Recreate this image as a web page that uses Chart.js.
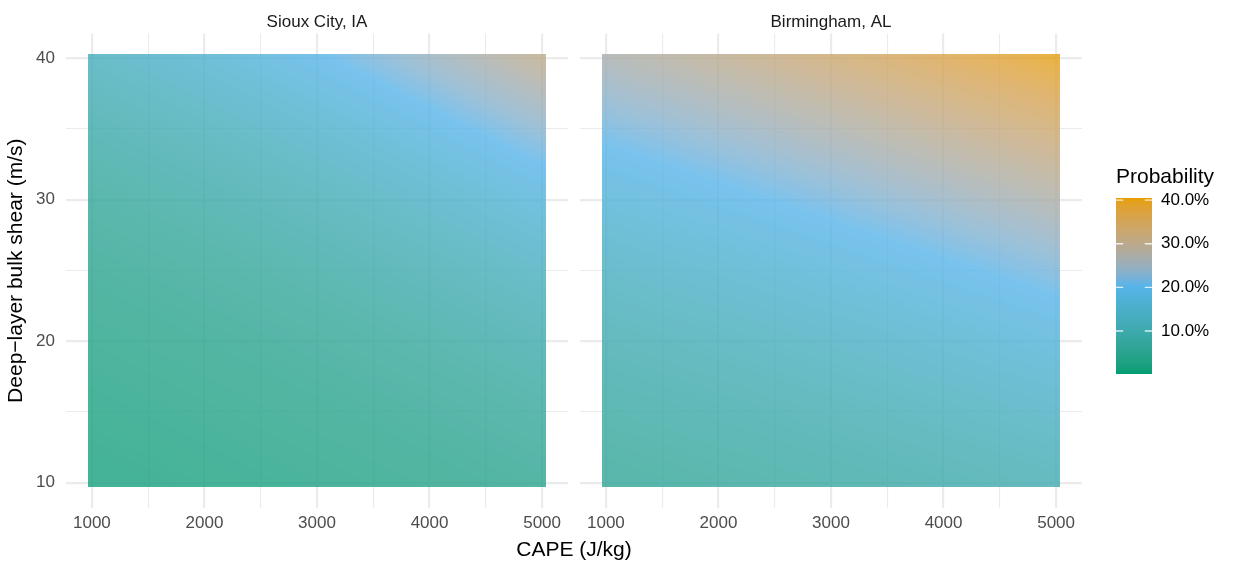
<!DOCTYPE html>
<html><head><meta charset="utf-8">
<script src="https://cdn.jsdelivr.net/npm/chart.js@4"></script>
<style>
html,body{margin:0;padding:0;background:#fff;}
#wrap{position:relative;width:1234px;height:566px;overflow:hidden;background:#fff;}
canvas{position:absolute;top:0;}
#xtitle{position:absolute;left:0;width:1148px;top:536px;text-align:center;font:21px "Liberation Sans",Arial,Helvetica,sans-serif;line-height:25px;color:#000;white-space:nowrap;}
</style></head><body>
<div id="wrap">
<canvas id="c1" width="575" height="566" style="left:0px"></canvas>
<canvas id="c2" width="515" height="566" style="left:575px"></canvas>
<canvas id="c3" width="144" height="566" style="left:1090px"></canvas>
<div id="xtitle">CAPE (J/kg)</div>
</div>
<script>
// ---------------- data ----------------
const panelTitles = ['Sioux City, IA', 'Birmingham, AL'];
const capeValues = [1000,1250,1500,1750,2000,2250,2500,2750,3000,3250,3500,3750,4000,4250,4500,4750,5000];
const shearValues = [10,12,14,16,18,20,22,24,26,28,30,32,34,36,38,40];
// probability (%) ; rows = shearValues, columns = capeValues
const siouxCityProb = [
 [1.8,1.9,2.0,2.2,2.3,2.5,2.7,2.9,3.1,3.3,3.5,3.7,4.0,4.3,4.5,4.8,5.2],
 [2.0,2.2,2.3,2.5,2.7,2.9,3.1,3.3,3.5,3.7,4.0,4.3,4.5,4.8,5.2,5.5,5.9],
 [2.3,2.5,2.7,2.9,3.1,3.3,3.5,3.7,4.0,4.3,4.5,4.8,5.2,5.5,5.9,6.3,6.7],
 [2.7,2.9,3.1,3.3,3.5,3.7,4.0,4.3,4.5,4.8,5.2,5.5,5.9,6.3,6.7,7.1,7.6],
 [3.1,3.3,3.5,3.7,4.0,4.3,4.5,4.8,5.2,5.5,5.9,6.3,6.7,7.1,7.6,8.1,8.6],
 [3.5,3.7,4.0,4.3,4.5,4.8,5.2,5.5,5.9,6.3,6.7,7.1,7.6,8.1,8.6,9.2,9.8],
 [4.0,4.3,4.5,4.8,5.2,5.5,5.9,6.3,6.7,7.1,7.6,8.1,8.6,9.2,9.8,10.4,11.1],
 [4.5,4.8,5.2,5.5,5.9,6.3,6.7,7.1,7.6,8.1,8.6,9.2,9.8,10.4,11.1,11.8,12.5],
 [5.2,5.5,5.9,6.3,6.7,7.1,7.6,8.1,8.6,9.2,9.8,10.4,11.1,11.8,12.5,13.3,14.1],
 [5.9,6.3,6.7,7.1,7.6,8.1,8.6,9.2,9.8,10.4,11.1,11.8,12.5,13.3,14.1,14.9,15.8],
 [6.7,7.1,7.6,8.1,8.6,9.2,9.8,10.4,11.1,11.8,12.5,13.3,14.1,14.9,15.8,16.8,17.7],
 [7.6,8.1,8.6,9.2,9.8,10.4,11.1,11.8,12.5,13.3,14.1,14.9,15.8,16.8,17.7,18.8,19.8],
 [8.6,9.2,9.8,10.4,11.1,11.8,12.5,13.3,14.1,14.9,15.8,16.8,17.7,18.8,19.8,21.0,22.1],
 [9.8,10.4,11.1,11.8,12.5,13.3,14.1,14.9,15.8,16.8,17.7,18.8,19.8,21.0,22.1,23.3,24.6],
 [11.1,11.8,12.5,13.3,14.1,14.9,15.8,16.8,17.7,18.8,19.8,21.0,22.1,23.3,24.6,25.9,27.2],
 [12.5,13.3,14.1,14.9,15.8,16.8,17.7,18.8,19.8,21.0,22.1,23.3,24.6,25.9,27.2,28.6,30.0]
];
const birminghamProb = [
 [6.1,6.4,6.6,6.8,7.1,7.3,7.6,7.9,8.1,8.4,8.7,9.0,9.3,9.7,10.0,10.4,10.7],
 [6.8,7.1,7.3,7.6,7.9,8.1,8.4,8.7,9.0,9.3,9.7,10.0,10.4,10.7,11.1,11.5,11.9],
 [7.6,7.9,8.1,8.4,8.7,9.0,9.3,9.7,10.0,10.4,10.7,11.1,11.5,11.9,12.3,12.7,13.1],
 [8.4,8.7,9.0,9.3,9.7,10.0,10.4,10.7,11.1,11.5,11.9,12.3,12.7,13.1,13.6,14.0,14.5],
 [9.3,9.7,10.0,10.4,10.7,11.1,11.5,11.9,12.3,12.7,13.1,13.6,14.0,14.5,15.0,15.4,15.9],
 [10.4,10.7,11.1,11.5,11.9,12.3,12.7,13.1,13.6,14.0,14.5,15.0,15.4,15.9,16.5,17.0,17.5],
 [11.5,11.9,12.3,12.7,13.1,13.6,14.0,14.5,15.0,15.4,15.9,16.5,17.0,17.5,18.1,18.7,19.3],
 [12.7,13.1,13.6,14.0,14.5,15.0,15.4,15.9,16.5,17.0,17.5,18.1,18.7,19.3,19.9,20.5,21.1],
 [14.0,14.5,15.0,15.4,15.9,16.5,17.0,17.5,18.1,18.7,19.3,19.9,20.5,21.1,21.7,22.4,23.1],
 [15.4,15.9,16.5,17.0,17.5,18.1,18.7,19.3,19.9,20.5,21.1,21.7,22.4,23.1,23.7,24.4,25.2],
 [17.0,17.5,18.1,18.7,19.3,19.9,20.5,21.1,21.7,22.4,23.1,23.7,24.4,25.2,25.9,26.6,27.4],
 [18.7,19.3,19.9,20.5,21.1,21.7,22.4,23.1,23.7,24.4,25.2,25.9,26.6,27.4,28.1,28.9,29.7],
 [20.5,21.1,21.7,22.4,23.1,23.7,24.4,25.2,25.9,26.6,27.4,28.1,28.9,29.7,30.5,31.3,32.1],
 [22.4,23.1,23.7,24.4,25.2,25.9,26.6,27.4,28.1,28.9,29.7,30.5,31.3,32.1,33.0,33.8,34.7],
 [24.4,25.2,25.9,26.6,27.4,28.1,28.9,29.7,30.5,31.3,32.1,33.0,33.8,34.7,35.5,36.4,37.3],
 [26.6,27.4,28.1,28.9,29.7,30.5,31.3,32.1,33.0,33.8,34.7,35.5,36.4,37.3,38.2,39.1,40.0]
];
const xTickLabels = [1000,2000,3000,4000,5000];
const yTickLabels = [10,20,30,40];
const legendTickLabels = [10,20,30,40];
const paletteColours = ['#009E73','#56B4E9','#E69F00'];
const colourLimits = [0.15, 40.45];

// ---------------- layout / style constants ----------------
const panelXRange = [770, 5230];
const panelYRange = [8.22, 41.74];
const rasterXExtent = [965, 5035];
const rasterYExtent = [9.73, 40.27];
const rasterAlpha = 0.8;
const FONT = '"Liberation Sans", Arial, Helvetica, sans-serif';
Chart.defaults.font.family = FONT;
Chart.defaults.color = '#4D4D4D';

// major breaks plus minor breaks half-way between them (as ggplot draws)
function withMinor(major){
  const out=[];
  for(let i=0;i<major.length;i++){
    out.push(major[i]);
    if(i<major.length-1) out.push((major[i]+major[i+1])/2);
  }
  return out;
}
const xBreaks = withMinor(xTickLabels);
const yBreaks = withMinor(yTickLabels);

// ---------------- colour scale (Lab interpolation) ----------------
function hexToRgb(h){h=h.replace('#','');return [parseInt(h.slice(0,2),16),parseInt(h.slice(2,4),16),parseInt(h.slice(4,6),16)];}
function s2l(c){c/=255;return c<=0.04045?c/12.92:Math.pow((c+0.055)/1.055,2.4);}
function l2s(c){const v=c<=0.0031308?12.92*c:1.055*Math.pow(Math.max(c,0),1/2.4)-0.055;return Math.max(0,Math.min(255,Math.round(v*255)));}
function rgbToLab(rgb){
  const R=s2l(rgb[0]),G=s2l(rgb[1]),B=s2l(rgb[2]);
  const X=(0.4124564*R+0.3575761*G+0.1804375*B)/0.95047;
  const Y=(0.2126729*R+0.7151522*G+0.0721750*B);
  const Z=(0.0193339*R+0.1191920*G+0.9503041*B)/1.08883;
  const f=t=>t>216/24389?Math.cbrt(t):(24389/27*t+16)/116;
  const fx=f(X),fy=f(Y),fz=f(Z);
  return [116*fy-16,500*(fx-fy),200*(fy-fz)];
}
function labToRgb(lab){
  const fy=(lab[0]+16)/116,fx=fy+lab[1]/500,fz=fy-lab[2]/200;
  const inv=t=>{const t3=t*t*t;return t3>216/24389?t3:(116*t-16)/(24389/27);};
  const X=inv(fx)*0.95047,Y=inv(fy),Z=inv(fz)*1.08883;
  const R=3.2404542*X-1.5371385*Y-0.4985314*Z;
  const G=-0.9692660*X+1.8760108*Y+0.0415560*Z;
  const B=0.0556434*X-0.2040259*Y+1.0572252*Z;
  return [l2s(R),l2s(G),l2s(B)];
}
const paletteLab = paletteColours.map(c=>rgbToLab(hexToRgb(c)));
const colourCache = new Map();
function colourRGB(v){
  const key=Math.round(v*50);
  if(colourCache.has(key)) return colourCache.get(key);
  let t=(key/50-colourLimits[0])/(colourLimits[1]-colourLimits[0]);
  t=Math.max(0,Math.min(1,t));
  const n=paletteLab.length-1;
  const seg=Math.min(n-1,Math.floor(t*n));
  const u=t*n-seg;
  const a=paletteLab[seg],b=paletteLab[seg+1];
  const rgb=labToRgb([a[0]+(b[0]-a[0])*u,a[1]+(b[1]-a[1])*u,a[2]+(b[2]-a[2])*u]);
  colourCache.set(key,rgb);
  return rgb;
}
function colourFor(v){const c=colourRGB(v);return 'rgb('+c[0]+','+c[1]+','+c[2]+')';}

// ---------------- raster plugin (smoothly shaded cells, like geom_raster(interpolate=TRUE)) ----------------
function fracIndex(vals, v){
  if(v<=vals[0]) return 0;
  const n=vals.length-1;
  if(v>=vals[n]) return n;
  let i=0; while(i<n-1 && v>vals[i+1]) i++;
  return i+(v-vals[i])/(vals[i+1]-vals[i]);
}
function rasterPlugin(grid){
  return {
    id:'raster',
    afterDatasetsDraw(chart){
      const {ctx, scales:{x, y}} = chart;
      const px0=Math.round(x.getPixelForValue(rasterXExtent[0])), px1=Math.round(x.getPixelForValue(rasterXExtent[1]));
      const py0=Math.round(y.getPixelForValue(rasterYExtent[1])), py1=Math.round(y.getPixelForValue(rasterYExtent[0]));
      const w=px1-px0, h=py1-py0;
      const off=document.createElement('canvas'); off.width=w; off.height=h;
      const octx=off.getContext('2d');
      const img=octx.createImageData(w,h);
      const fx=[], fy=[];
      for(let c=0;c<w;c++) fx.push(fracIndex(capeValues, x.getValueForPixel(px0+c+0.5)));
      for(let r=0;r<h;r++) fy.push(fracIndex(shearValues, y.getValueForPixel(py0+r+0.5)));
      const nx=capeValues.length-1, ny=shearValues.length-1;
      const A=Math.round(rasterAlpha*255);
      for(let r=0;r<h;r++){
        const j0=Math.min(ny-1,Math.floor(fy[r])), v=fy[r]-j0;
        for(let c=0;c<w;c++){
          const i0=Math.min(nx-1,Math.floor(fx[c])), u=fx[c]-i0;
          const val=(1-u)*(1-v)*grid[j0][i0]+u*(1-v)*grid[j0][i0+1]+(1-u)*v*grid[j0+1][i0]+u*v*grid[j0+1][i0+1];
          const rgb=colourRGB(val);
          const k=(r*w+c)*4;
          img.data[k]=rgb[0]; img.data[k+1]=rgb[1]; img.data[k+2]=rgb[2]; img.data[k+3]=A;
        }
      }
      octx.putImageData(img,0,0);
      ctx.save();
      ctx.drawImage(off,px0,py0);
      ctx.restore();
    }
  };
}

function gridWidth(list){ return c => (c.tick && list.includes(c.tick.value)) ? 2.2 : 1.1; }

function makePanel(id, title, grid, showY, yWidth, padRight){
  return new Chart(document.getElementById(id), {
    type:'scatter',
    data:{datasets:[]},
    options:{
      responsive:false, animation:false, devicePixelRatio:1,
      layout:{padding:{left:0,right:padRight,top:0,bottom:0}},
      plugins:{
        legend:{display:false}, tooltip:{enabled:false},
        title:{display:true, text:title, fullSize:false, color:'#1A1A1A',
               font:{size:17, weight:'normal', family:FONT}, padding:{top:12,bottom:1}}
      },
      scales:{
        x:{type:'linear', min:panelXRange[0], max:panelXRange[1],
           afterBuildTicks:s=>{s.ticks=xBreaks.map(v=>({value:v}));},
           afterFit:s=>{s.height=58;},
           border:{display:false},
           grid:{drawTicks:false, color:'#EBEBEB', lineWidth:gridWidth(xTickLabels)},
           ticks:{autoSkip:false, maxRotation:0, minRotation:0,
                  padding:5, color:'#4D4D4D', font:{size:17},
                  callback:v=>xTickLabels.includes(v)?String(v):''}},
        y:{type:'linear', min:panelYRange[0], max:panelYRange[1],
           afterBuildTicks:s=>{s.ticks=yBreaks.map(v=>({value:v}));},
           afterFit:s=>{s.width=yWidth;},
           border:{display:false},
           grid:{drawTicks:false, color:'#EBEBEB', lineWidth:gridWidth(yTickLabels)},
           title:{display:showY, text:'Deep\u2212layer bulk shear (m/s)', color:'#000',
                  font:{size:21, weight:'normal'}, padding:{top:4,bottom:0}},
           ticks:{display:showY, autoSkip:false,
                  padding:11, color:'#4D4D4D', font:{size:17},
                  callback:v=>yTickLabels.includes(v)?String(v):''}}
      }
    },
    plugins:[rasterPlugin(grid)]
  });
}

makePanel('c1', panelTitles[0], siouxCityProb, true, 66, 7);
makePanel('c2', panelTitles[1], birminghamProb, false, 5, 8);

// ---------------- colour bar legend ----------------
const colourbarPlugin = {
  id:'colourbar',
  afterDatasetsDraw(chart){
    const {ctx, chartArea:{left,right}, scales:{y}} = chart;
    const lo=colourLimits[0], hi=colourLimits[1], nBins=300;
    ctx.save();
    for(let k=0;k<nBins;k++){
      const v0=lo+(hi-lo)*k/nBins, v1=lo+(hi-lo)*(k+1)/nBins;
      const p0=Math.round(y.getPixelForValue(v0)), p1=Math.round(y.getPixelForValue(v1));
      if(p0===p1) continue;
      ctx.fillStyle=colourFor((v0+v1)/2);
      ctx.fillRect(left,p1,right-left,p0-p1);
    }
    ctx.strokeStyle='rgba(255,255,255,0.8)'; ctx.lineWidth=1.4;
    const tw=(right-left)/5;
    legendTickLabels.forEach(v=>{
      const py=y.getPixelForValue(v);
      ctx.beginPath(); ctx.moveTo(left,py); ctx.lineTo(left+tw,py);
      ctx.moveTo(right-tw,py); ctx.lineTo(right,py); ctx.stroke();
    });
    ctx.restore();
  }
};
new Chart(document.getElementById('c3'), {
  type:'scatter',
  data:{datasets:[]},
  options:{
    responsive:false, animation:false, devicePixelRatio:1,
    layout:{padding:{left:26,right:0,top:150,bottom:192}},
    plugins:{
      legend:{display:false}, tooltip:{enabled:false},
      title:{display:true, text:'Probability', align:'start', color:'#000',
             font:{size:21, weight:'normal'}, padding:{top:15,bottom:8}}
    },
    scales:{
      x:{display:false, min:0, max:1},
      y:{position:'right', min:colourLimits[0], max:colourLimits[1],
         afterBuildTicks:s=>{s.ticks=legendTickLabels.map(v=>({value:v}));},
         afterFit:s=>{s.width=82;},
         border:{display:false},
         grid:{display:false, drawTicks:false},
         ticks:{autoSkip:false, padding:9, color:'#000', font:{size:17},
                callback:v=>v.toFixed(1)+'%'}}
    }
  },
  plugins:[colourbarPlugin]
});
</script>
</body></html>
